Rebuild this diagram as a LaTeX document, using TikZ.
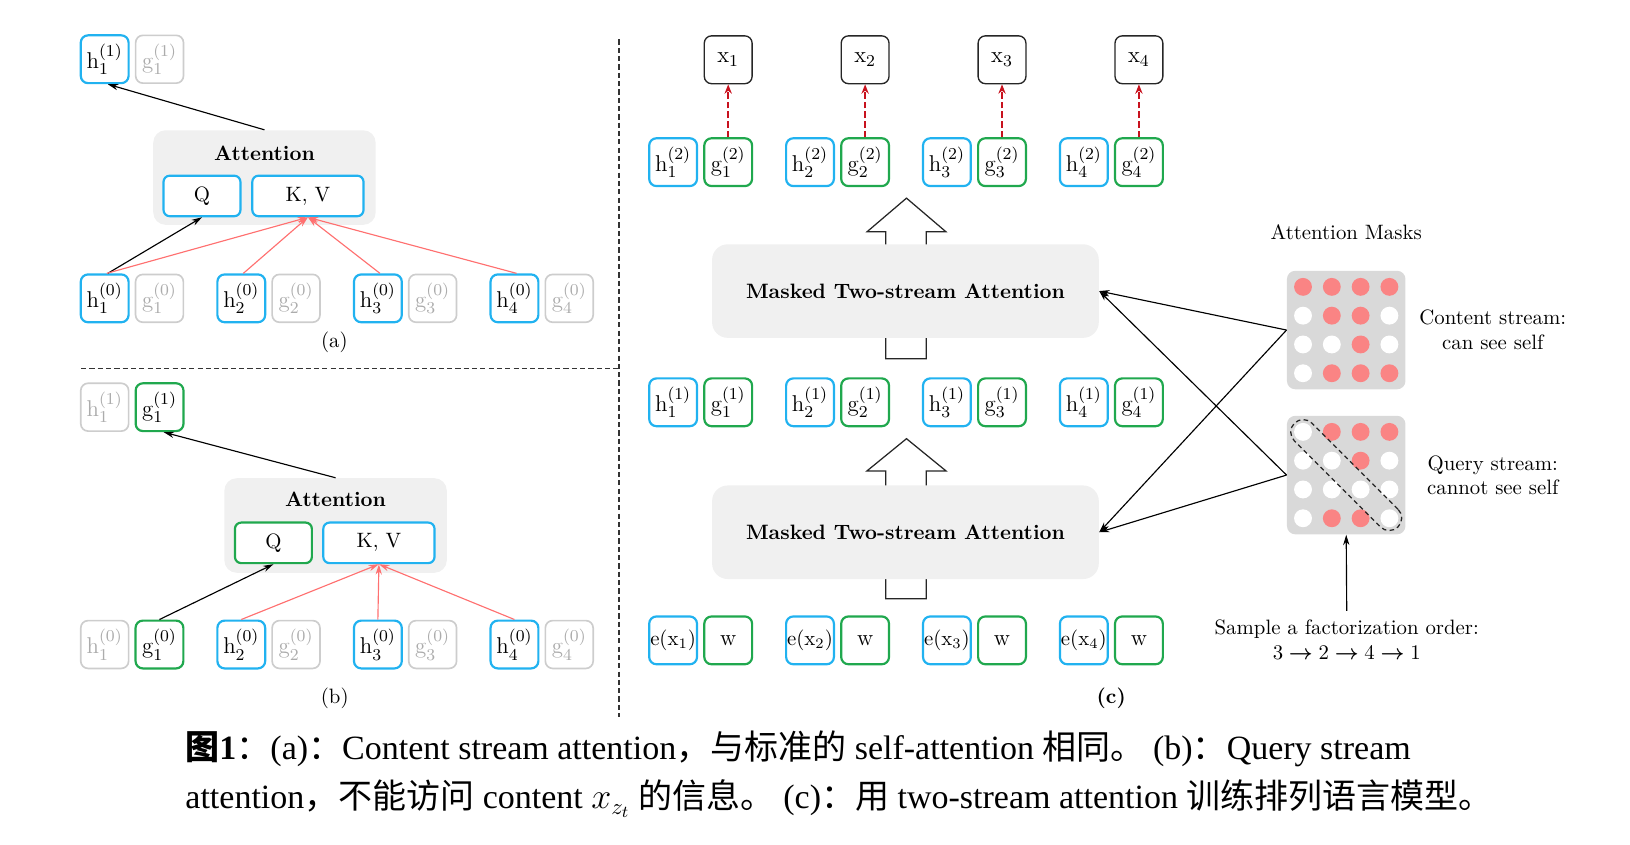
\documentclass[tikz,border=0pt]{standalone}
\usepackage{amsmath}
\usepackage{fontspec}
\usetikzlibrary{arrows.meta,calc}
\newfontfamily\capfont{Liberation Serif}
\newfontfamily\cjk{Noto Sans CJK SC}
\definecolor{tblue}{RGB}{33,178,240}
\definecolor{tgreen}{RGB}{32,168,78}
\definecolor{offdraw}{RGB}{205,205,205}
\definecolor{offtext}{RGB}{172,172,172}
\definecolor{lred}{RGB}{255,112,112}
\definecolor{dred}{RGB}{200,18,30}
\definecolor{dotred}{RGB}{250,132,132}
\definecolor{panelfill}{RGB}{240,240,240}
\definecolor{maskfill}{RGB}{217,217,217}
\tikzset{
 tok/.style={draw, line width=1.05pt, rounded corners=3.5pt, minimum width=23pt, minimum height=23pt, inner sep=0pt, fill=white, font=\fontsize{11}{13}\selectfont},
 hbox/.style={tok, draw=tblue},
 gbox/.style={tok, draw=tgreen},
 offbox/.style={tok, draw=offdraw, text=offtext, line width=0.8pt},
 xbox/.style={tok, draw=black!85, line width=0.65pt},
 attpanel/.style={fill=panelfill, rounded corners=6pt, minimum width=107pt, minimum height=45.5pt, inner sep=0pt},
 qkv/.style={draw, line width=1.05pt, rounded corners=3pt, minimum height=19.5pt, inner sep=0pt, fill=white},
 blk/.style={-{Stealth[length=5pt,width=3pt]}, line width=0.55pt, black},
 redarr/.style={-{Stealth[length=5pt,width=3pt]}, line width=0.55pt, lred},
 predarr/.style={-{Stealth[length=4.5pt,width=3.5pt]}, line width=1.15pt, dred, dash pattern=on 3.2pt off 1.4pt},
 mtsa/.style={fill=panelfill, rounded corners=7.5pt, minimum width=186pt, minimum height=45pt, inner sep=0pt, font=\bfseries},
 hollow/.style={draw=black!85, line width=0.6pt, fill=white},
 maskbox/.style={fill=maskfill, rounded corners=4pt, minimum size=57pt, inner sep=0pt},
 dotR/.style={circle, fill=dotred, minimum size=8.6pt, inner sep=0pt},
 dotW/.style={circle, fill=white, minimum size=8.6pt, inner sep=0pt},
 lbl/.style={align=center, inner sep=0pt},
 sepline/.style={line width=0.6pt, black!80, dash pattern=on 2.5pt off 1.5pt},
 capline/.style={anchor=base west, inner sep=0pt, font=\capfont\fontsize{16.35}{23.5}\selectfont},
}
\begin{document}
\begin{tikzpicture}[x=0.5pt,y=-0.5pt]
\useasboundingbox (0,0) rectangle (1568,812);

% separators
\coordinate (vt) at (595.5,38); \coordinate (vb) at (595.5,690);
\coordinate (hl) at (78,354.3); \coordinate (hr) at (595.5,354.3);
\draw[sepline] (vt) -- (vb);
\draw[sepline] (hl) -- (hr);

% ---------- panel (a)
\node[hbox] (a11) at (100.7,57) {$\mathrm{h}^{(1)}_1$};
\node[offbox] (a21) at (153.5,57) {$\mathrm{g}^{(1)}_1$};
\node[attpanel] (attA) at (254.4,170.8) {};
\node[lbl, font=\bfseries] (attAt) at (254.4,147.5) {Attention};
\node[qkv, draw=tblue, minimum width=37pt] (qA) at (194.3,188.5) {Q};
\node[qkv, draw=tblue, minimum width=53.5pt] (kvA) at (296.2,188.5) {K, V};
\foreach \i/\x in {1/100.7,2/232.1,3/363.5,4/494.9} {
  \node[hbox] (ah\i) at (\x,287) {$\mathrm{h}^{(0)}_{\i}$};
  \node[offbox] (ag\i) at (\x+52.7,287) {$\mathrm{g}^{(0)}_{\i}$};
}
\draw[blk] (attA.north) -- ([xshift=1.5pt]a11.south);
\draw[blk] ([xshift=1.5pt]ah1.north) -- (qA.south);
\foreach \i in {1,...,4} \draw[redarr] ([xshift=1pt]ah\i.north) -- (kvA.south);
\node[lbl] (labA) at (321.6,329) {(a)};

% ---------- panel (b)
\node[offbox] (b11) at (100.7,391.7) {$\mathrm{h}^{(1)}_1$};
\node[gbox] (b21) at (153.5,391.7) {$\mathrm{g}^{(1)}_1$};
\node[attpanel] (attB) at (322.8,505.5) {};
\node[lbl, font=\bfseries] (attBt) at (322.8,480.4) {Attention};
\node[qkv, draw=tgreen, minimum width=37pt] (qB) at (263,522.2) {Q};
\node[qkv, draw=tblue, minimum width=53.5pt] (kvB) at (364.5,522.2) {K, V};
\node[offbox] (bh1) at (100.7,620) {$\mathrm{h}^{(0)}_1$};
\node[gbox] (bg1) at (153.4,620) {$\mathrm{g}^{(0)}_1$};
\foreach \i/\x in {2/232.1,3/363.5,4/494.9} {
  \node[hbox] (bh\i) at (\x,620) {$\mathrm{h}^{(0)}_{\i}$};
  \node[offbox] (bg\i) at (\x+52.7,620) {$\mathrm{g}^{(0)}_{\i}$};
}
\draw[blk] (attB.north) -- ([xshift=2pt]b21.south);
\draw[blk] (bg1.north) -- (qB.south);
\foreach \i in {2,3,4} \draw[redarr] (bh\i.north) -- (kvB.south);
\node[lbl] (labB) at (322,671.8) {(b)};

% ---------- panel (c)
% hollow arrows (drawn under the boxes)
\draw[hollow] (852,345) -- (852,223) -- (834,223) -- (872,190.6) -- (910,223) -- (891,223) -- (891,345) -- cycle;
\draw[hollow] (852,576) -- (852,453) -- (834,453) -- (872,422) -- (910,453) -- (891,453) -- (891,576) -- cycle;
\node[mtsa] (m1) at (871,280) {Masked Two-stream Attention};
\node[mtsa] (m2) at (871,512) {Masked Two-stream Attention};

\foreach \i/\x in {1/647.5,2/779.2,3/910.9,4/1042.6} {
  \node[xbox] (x\i) at (\x+53,57.5) {$\mathrm{x}_{\i}$};
  \node[hbox] (ch2\i) at (\x,156) {$\mathrm{h}^{(2)}_{\i}$};
  \node[gbox] (cg2\i) at (\x+53,156) {$\mathrm{g}^{(2)}_{\i}$};
  \node[hbox] (ch1\i) at (\x,387) {$\mathrm{h}^{(1)}_{\i}$};
  \node[gbox] (cg1\i) at (\x+53,387) {$\mathrm{g}^{(1)}_{\i}$};
  \node[hbox, font=\normalsize] (ce\i) at (\x,616) {$\mathrm{e}(\mathrm{x}_{\i})$};
  \node[gbox] (cw\i) at (\x+53,616) {$\mathrm{w}$};
  \draw[predarr] (cg2\i.north) -- (x\i.south);
}
\node[lbl, font=\bfseries] (labC) at (1069,671.5) {(c)};

% ---------- masks
\node[lbl] (amt) at (1295,223.8) {Attention Masks};
\node[maskbox] (cmask) at (1295,317.5) {};
\node[maskbox] (qmask) at (1295,457) {};
\foreach \r/\pat in {1/{R,R,R,R},2/{W,R,R,W},3/{W,W,R,W},4/{W,R,R,R}} {
  \foreach [count=\c] \t in \pat {
    \node[dot\t] at (1295+27.7*\c-69.25,317.5+27.7*\r-69.25) {};
  }
}
\foreach \r/\pat in {1/{W,R,R,R},2/{W,W,R,W},3/{W,W,W,W},4/{W,R,R,W}} {
  \foreach [count=\c] \t in \pat {
    \node[dot\t] at (1295+27.7*\c-69.25,457+27.7*\r-69.25) {};
  }
}
\node[draw=black!85, dash pattern=on 2.2pt off 1.6pt, line width=0.6pt, rotate=-45, minimum width=70.5pt, minimum height=12pt, rounded corners=6pt, inner sep=0pt] (diag) at (qmask.center) {};
\node[lbl] (cst) at (1436,317.3) {Content stream:\\can see self};
\node[lbl] (qst) at (1436,457.2) {Query stream:\\cannot see self};
\node[lbl] (sfo) at (1295.5,615) {Sample a factorization order:\\$3 \boldsymbol{\rightarrow} 2 \boldsymbol{\rightarrow} 4 \boldsymbol{\rightarrow} 1$};
\draw[blk] ([yshift=4pt]sfo.north) -- (qmask.south);
\draw[blk] (cmask.west) -- (m1.east);
\draw[blk] (cmask.west) -- (m2.east);
\draw[blk] (qmask.west) -- (m1.east);
\draw[blk] (qmask.west) -- (m2.east);

% ---------- caption
\node[capline] (cap1) at (178,731) {{\cjk\bfseries 图}\textbf{1}{\cjk ：}(a){\cjk ：}Content stream attention{\cjk ，与标准的} self-attention {\cjk 相同。} (b){\cjk ：}Query stream};
\node[capline] (cap2) at (178,778) {attention{\cjk ，不能访问} content $x_{z_t}$ {\cjk 的信息。} (c){\cjk ：}{\cjk 用} two-stream attention {\cjk 训练排列语言模型。}};
\end{tikzpicture}
\end{document}
